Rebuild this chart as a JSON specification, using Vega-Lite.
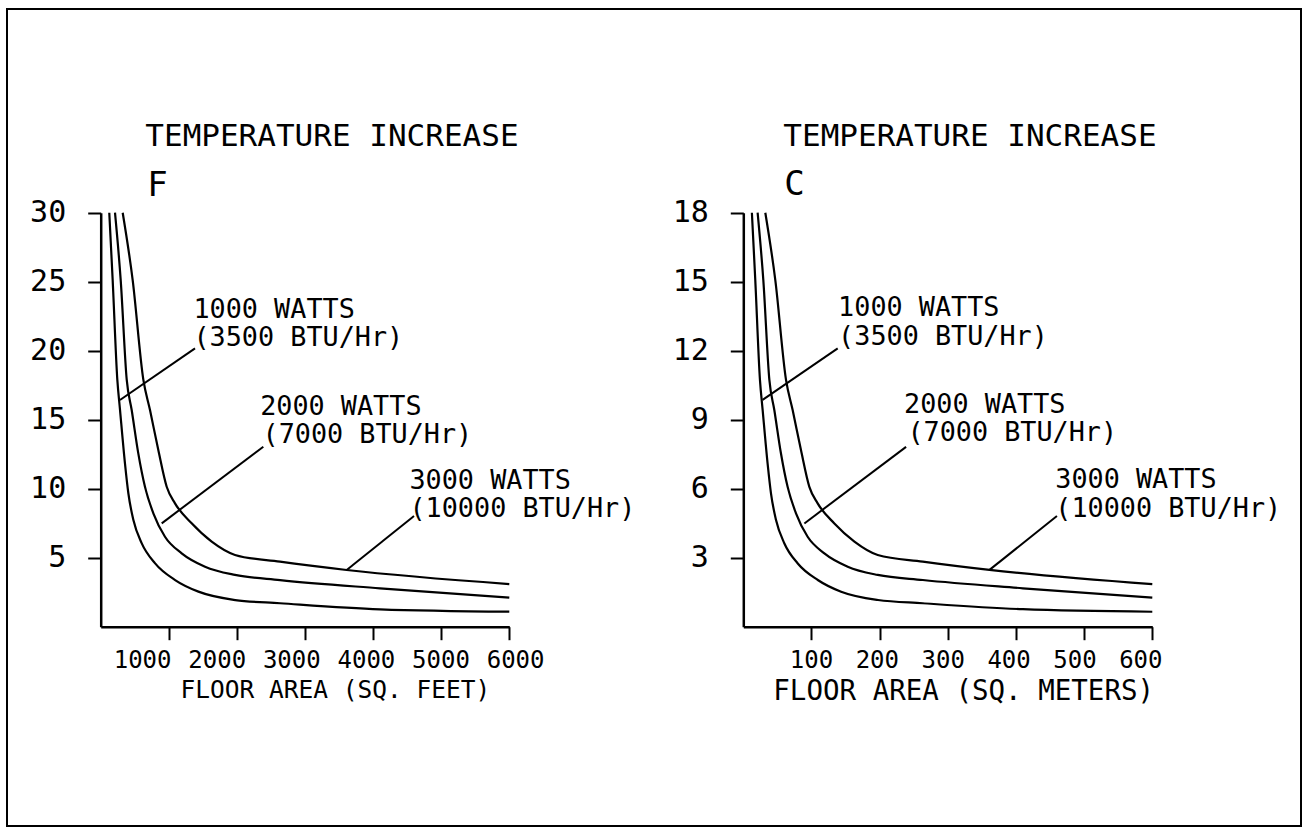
{
  "$schema": "https://vega.github.io/schema/vega-lite/v6.json",
  "width": 1294,
  "height": 817,
  "autosize": "none",
  "padding": {"left": 7, "top": 9, "right": 7, "bottom": 1},
  "background": "white",
  "config": {
    "view": {"stroke": "black", "strokeWidth": 2},
    "font": "DejaVu Sans Mono",
    "axis": {
      "grid": false,
      "domainColor": "black",
      "domainWidth": 2.5,
      "tickColor": "black",
      "tickWidth": 2,
      "tickSize": 13,
      "labelColor": "black",
      "labelFont": "DejaVu Sans Mono",
      "labelFlush": false,
      "labelOverlap": false,
      "zindex": 1
    }
  },
  "datasets": {
    "curvesF": [
      {"watts": "1000", "A": 126, "T": 30},
      {"watts": "1000", "A": 176, "T": 25.1},
      {"watts": "1000", "A": 244, "T": 17.9},
      {"watts": "1000", "A": 284, "T": 15.7},
      {"watts": "1000", "A": 357, "T": 11.8},
      {"watts": "1000", "A": 406, "T": 9.67},
      {"watts": "1000", "A": 480, "T": 7.73},
      {"watts": "1000", "A": 603, "T": 6.04},
      {"watts": "1000", "A": 799, "T": 4.59},
      {"watts": "1000", "A": 1093, "T": 3.38},
      {"watts": "1000", "A": 1435, "T": 2.54},
      {"watts": "1000", "A": 1975, "T": 1.93},
      {"watts": "1000", "A": 2633, "T": 1.7},
      {"watts": "1000", "A": 4101, "T": 1.26},
      {"watts": "1000", "A": 6000, "T": 1.09},
      {"watts": "2000", "A": 210, "T": 30},
      {"watts": "2000", "A": 294, "T": 25.1},
      {"watts": "2000", "A": 382, "T": 17.9},
      {"watts": "2000", "A": 455, "T": 15.7},
      {"watts": "2000", "A": 552, "T": 12.56},
      {"watts": "2000", "A": 650, "T": 10.14},
      {"watts": "2000", "A": 773, "T": 8.22},
      {"watts": "2000", "A": 944, "T": 6.52},
      {"watts": "2000", "A": 1189, "T": 5.32},
      {"watts": "2000", "A": 1532, "T": 4.35},
      {"watts": "2000", "A": 1972, "T": 3.75},
      {"watts": "2000", "A": 2633, "T": 3.38},
      {"watts": "2000", "A": 4101, "T": 2.78},
      {"watts": "2000", "A": 6000, "T": 2.1},
      {"watts": "3000", "A": 323, "T": 30},
      {"watts": "3000", "A": 470, "T": 25.1},
      {"watts": "3000", "A": 626, "T": 17.9},
      {"watts": "3000", "A": 724, "T": 15.7},
      {"watts": "3000", "A": 846, "T": 12.8},
      {"watts": "3000", "A": 969, "T": 10.14},
      {"watts": "3000", "A": 1091, "T": 8.94},
      {"watts": "3000", "A": 1336, "T": 7.49},
      {"watts": "3000", "A": 1630, "T": 6.16},
      {"watts": "3000", "A": 1972, "T": 5.2},
      {"watts": "3000", "A": 2633, "T": 4.71},
      {"watts": "3000", "A": 3612, "T": 4.11},
      {"watts": "3000", "A": 6000, "T": 3.09}
    ],
    "curvesC": [
      {"watts": "1000", "A": 12.6, "T": 18},
      {"watts": "1000", "A": 17.6, "T": 15.06},
      {"watts": "1000", "A": 24.4, "T": 10.74},
      {"watts": "1000", "A": 28.4, "T": 9.42},
      {"watts": "1000", "A": 35.7, "T": 7.08},
      {"watts": "1000", "A": 40.6, "T": 5.8},
      {"watts": "1000", "A": 48.0, "T": 4.64},
      {"watts": "1000", "A": 60.3, "T": 3.62},
      {"watts": "1000", "A": 79.9, "T": 2.75},
      {"watts": "1000", "A": 109.3, "T": 2.03},
      {"watts": "1000", "A": 143.5, "T": 1.52},
      {"watts": "1000", "A": 197.5, "T": 1.16},
      {"watts": "1000", "A": 263.3, "T": 1.02},
      {"watts": "1000", "A": 410.1, "T": 0.76},
      {"watts": "1000", "A": 600, "T": 0.65},
      {"watts": "2000", "A": 21, "T": 18},
      {"watts": "2000", "A": 29.4, "T": 15.06},
      {"watts": "2000", "A": 38.2, "T": 10.74},
      {"watts": "2000", "A": 45.5, "T": 9.42},
      {"watts": "2000", "A": 55.2, "T": 7.54},
      {"watts": "2000", "A": 65, "T": 6.08},
      {"watts": "2000", "A": 77.3, "T": 4.93},
      {"watts": "2000", "A": 94.4, "T": 3.91},
      {"watts": "2000", "A": 118.9, "T": 3.19},
      {"watts": "2000", "A": 153.2, "T": 2.61},
      {"watts": "2000", "A": 197.2, "T": 2.25},
      {"watts": "2000", "A": 263.3, "T": 2.03},
      {"watts": "2000", "A": 410.1, "T": 1.67},
      {"watts": "2000", "A": 600, "T": 1.26},
      {"watts": "3000", "A": 32.3, "T": 18},
      {"watts": "3000", "A": 47, "T": 15.06},
      {"watts": "3000", "A": 62.6, "T": 10.74},
      {"watts": "3000", "A": 72.4, "T": 9.42},
      {"watts": "3000", "A": 84.6, "T": 7.68},
      {"watts": "3000", "A": 96.9, "T": 6.08},
      {"watts": "3000", "A": 109.1, "T": 5.36},
      {"watts": "3000", "A": 133.6, "T": 4.49},
      {"watts": "3000", "A": 163, "T": 3.7},
      {"watts": "3000", "A": 197.2, "T": 3.12},
      {"watts": "3000", "A": 263.3, "T": 2.83},
      {"watts": "3000", "A": 361.2, "T": 2.47},
      {"watts": "3000", "A": 600, "T": 1.85}
    ],
    "leadF": [
      {"watts": "1000", "A": 283, "T": 16.43, "A2": 1385, "T2": 20.17},
      {"watts": "2000", "A": 896, "T": 7.49, "A2": 2388, "T2": 13.04},
      {"watts": "3000", "A": 3612, "T": 4.11, "A2": 4601, "T2": 8.02}
    ],
    "leadC": [
      {"watts": "1000", "A": 28.3, "T": 9.86, "A2": 138.5, "T2": 12.1},
      {"watts": "2000", "A": 89.6, "T": 4.49, "A2": 238.8, "T2": 7.82},
      {"watts": "3000", "A": 361.2, "T": 2.47, "A2": 460.1, "T2": 4.81}
    ],
    "labelsF": [
      {"text": "1000 WATTS", "A": 1362, "T": 22.95},
      {"text": "(3500 BTU/Hr)", "A": 1362, "T": 20.92},
      {"text": "2000 WATTS", "A": 2342, "T": 15.94},
      {"text": "(7000 BTU/Hr)", "A": 2376, "T": 13.89},
      {"text": "3000 WATTS", "A": 4534, "T": 10.56},
      {"text": "(10000 BTU/Hr)", "A": 4534, "T": 8.53}
    ],
    "labelsC": [
      {"text": "1000 WATTS", "A": 139.1, "T": 13.86},
      {"text": "(3500 BTU/Hr)", "A": 139.1, "T": 12.6},
      {"text": "2000 WATTS", "A": 235.9, "T": 9.64},
      {"text": "(7000 BTU/Hr)", "A": 240.7, "T": 8.41},
      {"text": "3000 WATTS", "A": 457.7, "T": 6.37},
      {"text": "(10000 BTU/Hr)", "A": 457.7, "T": 5.13}
    ],
    "axisTitleF": [
      {"text": "FLOOR AREA (SQ. FEET)", "A": 1172, "T": -4.68}
    ],
    "axisTitleC": [
      {"text": "FLOOR AREA (SQ. METERS)", "A": 44, "T": -2.84}
    ],
    "titlesF": [
      {"text": "TEMPERATURE INCREASE", "A": 655, "T": 35.45}
    ],
    "titlesC": [
      {"text": "TEMPERATURE INCREASE", "A": 58.7, "T": 21.3}
    ],
    "unitF": [
      {"text": "F", "A": 684, "T": 31.93}
    ],
    "unitC": [
      {"text": "C", "A": 60, "T": 19.2}
    ]
  },
  "layer": [
    {
      "encoding": {
        "x": {"field": "A", "type": "quantitative",
              "scale": {"domain": [0, 6000], "range": [93.7, 502.3], "nice": false, "zero": false},
              "axis": {"orient": "bottom", "offset": -199.3, "title": null, "values": [1000, 2000, 3000, 4000, 5000, 6000], "format": "d", "labelFontSize": 24, "labelPadding": 9,
                       "labelOffset": {"expr": "-26.7 + 6.5 * (datum.value / 1000 - 1)"}}},
        "y": {"field": "T", "type": "quantitative",
              "scale": {"domain": [0, 30], "range": [617.7, 203.7], "nice": false, "zero": false},
              "axis": {"orient": "left", "offset": -93.7, "title": null, "values": [5, 10, 15, 20, 25, 30], "labelFontSize": 30, "labelPadding": 22}}
      },
      "layer": [
        {
          "data": {"name": "curvesF"},
          "mark": {"type": "line", "interpolate": "monotone", "color": "black", "strokeWidth": 2.2},
          "encoding": {"detail": {"field": "watts", "type": "nominal"}}
        },
        {
          "data": {"name": "leadF"},
          "mark": {"type": "rule", "color": "black", "strokeWidth": 2},
          "encoding": {"x2": {"field": "A2"}, "y2": {"field": "T2"}}
        },
        {
          "data": {"name": "labelsF"},
          "mark": {"type": "text", "align": "left", "baseline": "middle", "font": "DejaVu Sans Mono", "fontSize": 26.8, "color": "black"},
          "encoding": {"text": {"field": "text"}}
        },
        {
          "data": {"name": "axisTitleF"},
          "mark": {"type": "text", "align": "left", "baseline": "middle", "font": "DejaVu Sans Mono", "fontSize": 24.5, "color": "black"},
          "encoding": {"text": {"field": "text"}}
        },
        {
          "data": {"name": "titlesF"},
          "mark": {"type": "text", "align": "left", "baseline": "middle", "font": "DejaVu Sans Mono", "fontSize": 31, "color": "black"},
          "encoding": {"text": {"field": "text"}}
        },
        {
          "data": {"name": "unitF"},
          "mark": {"type": "text", "align": "left", "baseline": "middle", "font": "DejaVu Sans Mono", "fontSize": 34, "color": "black"},
          "encoding": {"text": {"field": "text"}}
        }
      ]
    },
    {
      "encoding": {
        "x": {"field": "A", "type": "quantitative",
              "scale": {"domain": [0, 600], "range": [736.3, 1145.3], "nice": false, "zero": false},
              "axis": {"orient": "bottom", "offset": -199.3, "title": null, "values": [100, 200, 300, 400, 500, 600], "format": "d", "labelFontSize": 24, "labelPadding": 9,
                       "labelOffset": {"expr": "-0.5 - 2.3 * (datum.value / 100 - 1)"}}},
        "y": {"field": "T", "type": "quantitative",
              "scale": {"domain": [0, 18], "range": [617.7, 203.7], "nice": false, "zero": false},
              "axis": {"orient": "left", "offset": -736.3, "title": null, "values": [3, 6, 9, 12, 15, 18], "labelFontSize": 30, "labelPadding": 22}}
      },
      "layer": [
        {
          "data": {"name": "curvesC"},
          "mark": {"type": "line", "interpolate": "monotone", "color": "black", "strokeWidth": 2.2},
          "encoding": {"detail": {"field": "watts", "type": "nominal"}}
        },
        {
          "data": {"name": "leadC"},
          "mark": {"type": "rule", "color": "black", "strokeWidth": 2},
          "encoding": {"x2": {"field": "A2"}, "y2": {"field": "T2"}}
        },
        {
          "data": {"name": "labelsC"},
          "mark": {"type": "text", "align": "left", "baseline": "middle", "font": "DejaVu Sans Mono", "fontSize": 26.8, "color": "black"},
          "encoding": {"text": {"field": "text"}}
        },
        {
          "data": {"name": "axisTitleC"},
          "mark": {"type": "text", "align": "left", "baseline": "middle", "font": "DejaVu Sans Mono", "fontSize": 27.5, "color": "black"},
          "encoding": {"text": {"field": "text"}}
        },
        {
          "data": {"name": "titlesC"},
          "mark": {"type": "text", "align": "left", "baseline": "middle", "font": "DejaVu Sans Mono", "fontSize": 31, "color": "black"},
          "encoding": {"text": {"field": "text"}}
        },
        {
          "data": {"name": "unitC"},
          "mark": {"type": "text", "align": "left", "baseline": "middle", "font": "DejaVu Sans Mono", "fontSize": 34, "color": "black"},
          "encoding": {"text": {"field": "text"}}
        }
      ]
    }
  ],
  "resolve": {
    "scale": {"x": "independent", "y": "independent"},
    "axis": {"x": "independent", "y": "independent"}
  }
}
